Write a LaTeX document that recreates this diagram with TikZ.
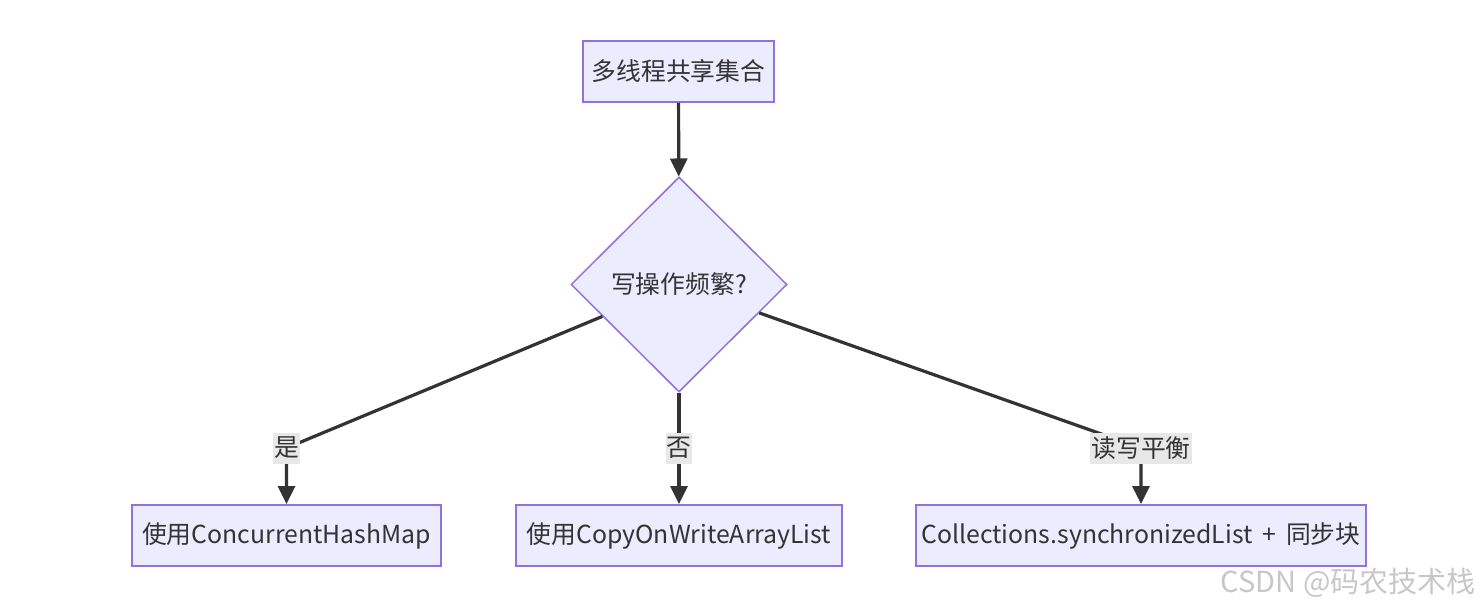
\documentclass[tikz,border=0pt]{standalone}
\usepackage{fontspec}
\setmainfont{Noto Sans CJK SC}
\usepackage{tikz}
\usetikzlibrary{positioning, arrows.meta, shapes.geometric}
\usepackage{xcolor}
\definecolor{nodefill}{HTML}{ECECFF}
\definecolor{nodeline}{HTML}{9370DB}
\definecolor{edgeline}{HTML}{333333}
\definecolor{lblfill}{HTML}{E8E8E8}

\begin{document}
\begin{tikzpicture}[
      x=0.5pt, y=-0.5pt,
      box/.style={draw=nodeline, fill=nodefill, line width=1pt,
          minimum height=30.5pt, inner xsep=3pt, font=\fontsize{12.4}{14}\selectfont,
          text=edgeline},
      decision/.style={diamond, draw=nodeline, fill=nodefill, line width=0.75pt,
          minimum width=108pt, minimum height=107.5pt, inner sep=1pt,
          font=\fontsize{12.4}{14}\selectfont, text=edgeline},
      lbl/.style={fill=lblfill, inner sep=0.5pt, minimum height=15.5pt,
          font=\fontsize{12.4}{14}\selectfont, text=edgeline},
      arr/.style={-{Triangle[length=9pt, width=8.5pt]}, line width=1.6pt, edgeline},
    ]
    \useasboundingbox (0,0) rectangle (1477,609);

    % Start and decision
    \node[box, minimum width=95.5pt] (share) at (678.5,71.5) {多线程共享集合};
    \node[decision] (freq) at (679,284.5) {写操作频繁?};

    % Results
    \node[box, minimum width=154.5pt] (chm) at (286.5,535.5) {使用ConcurrentHashMap};
    \node[box, minimum width=163pt] (cow) at (679,535.5) {使用CopyOnWriteArrayList};
    \node[box, minimum width=224pt] (sync) at (1141,535.5)
      {Collections.synchronizedList\hspace{0.4em}+\hspace{0.4em}同步块};

    % Bends under the labels
    \coordinate (kYes) at (286.5,448);
    \coordinate (kMix) at (1141,448);

    % Edges
    \draw[arr] (share) -- (freq);
    \draw[arr] (freq) -- (kYes) -- (chm);
    \draw[arr] (freq) -- (cow);
    \draw[arr] (freq) -- (kMix) -- (sync);

    % Edge labels
    \node[lbl] (lYes) at (kYes) {是};
    \node[lbl] (lNo) at (679,448) {否};
    \node[lbl] (lMix) at (kMix) {读写平衡};

    % Watermark
    \node[text=black!22, font=\fontsize{14.5}{16}\selectfont, inner sep=0pt] (mark) at (1348,583) {CSDN @码农技术栈};
  \end{tikzpicture}
\end{document}
